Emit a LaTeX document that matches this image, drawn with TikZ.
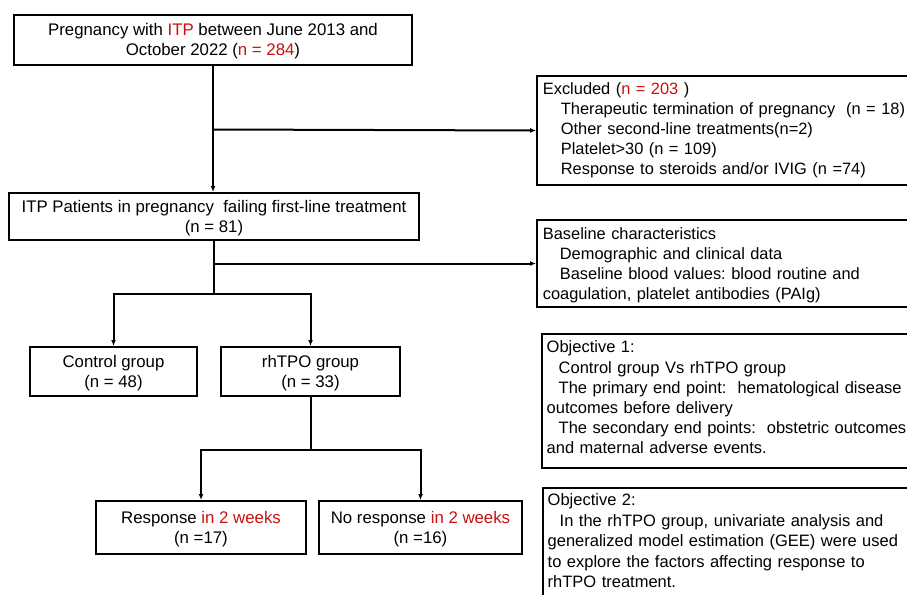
\documentclass[tikz,border=0pt]{standalone}
\usepackage{fontspec}
\setmainfont{Liberation Sans}
\usetikzlibrary{arrows.meta}
\definecolor{redtxt}{RGB}{200,16,16}
\begin{document}
\frenchspacing
\begin{tikzpicture}[x=1pt,y=-1pt,
  box/.style={draw, line width=2pt, align=center, inner sep=0pt, text depth=1pt, font=\fontsize{16.8}{20}\selectfont},
  rbox/.style={draw, line width=2pt, inner sep=0pt, anchor=north west},
  rtext/.style={align=left, inner sep=0pt, anchor=north west, text width=380pt, font=\fontsize{16.4}{20}\selectfont},
  otext/.style={rtext, font=\fontsize{16.5}{20.2}\selectfont},
  conn/.style={line width=2pt},
  arr/.style={conn, -{Latex[length=6pt,width=5pt]}}]
\clip (0,0) rectangle (907,594);
% left column
\node[box, minimum width=398pt, minimum height=50pt] (b1) at (213,40)
  {Pregnancy with \textcolor{redtxt}{ITP} between June 2013 and\\October 2022 (\textcolor{redtxt}{n = 284})};
\node[box, minimum width=410pt, minimum height=47pt] (b2) at (214,216.5)
  {ITP Patients in pregnancy\ \ failing first-line treatment\\(n = 81)};
\node[box, minimum width=167pt, minimum height=49pt] (ctrl) at (113.5,371.5)
  {Control group\\(n = 48)};
\node[box, minimum width=179pt, minimum height=49pt] (rh) at (310.5,371.5)
  {rhTPO group\\(n = 33)};
\node[box, minimum width=210pt, minimum height=53pt] (resp) at (201,527.5)
  {Response \textcolor{redtxt}{in 2 weeks}\\(n =17)};
\node[box, minimum width=203pt, minimum height=53pt] (noresp) at (420.5,527.5)
  {No response \textcolor{redtxt}{in 2 weeks}\\(n =16)};
% right column boxes
\node[rbox, minimum width=420pt, minimum height=109pt] (excl) at (536,75) {};
\node[rtext] (exclt) at (542.7,82.8)
  {Excluded (\textcolor{redtxt}{n = 203} )\\
   \hspace*{18pt}Therapeutic termination of pregnancy\ \ (n = 18)\\
   \hspace*{18pt}Other second-line treatments(n=2)\\
   \hspace*{18pt}Platelet>30 (n = 109)\\
   \hspace*{18pt}Response to steroids and/or IVIG (n =74)};
\node[rbox, minimum width=420pt, minimum height=87pt] (base) at (536,219) {};
\node[rtext] (baset) at (542.7,227.5)
  {Baseline characteristics\\
   \hspace*{17pt}Demographic and clinical data\\
   \hspace*{17pt}Baseline blood values: blood routine and\\
   coagulation, platelet antibodies (PAIg)};
\node[rbox, minimum width=420pt, minimum height=134pt] (obj1) at (541,333) {};
\node[otext] (obj1t) at (546.5,340.7)
  {Objective 1:\\
   \hspace*{12pt}Control group Vs rhTPO group\\
   \hspace*{12pt}The primary end point:\ \ hematological disease\\
   outcomes before delivery\\
   \hspace*{12pt}The secondary end points:\ \ obstetric outcomes\\
   and maternal adverse events.};
\node[rbox, minimum width=420pt, minimum height=140pt] (obj2) at (542,487) {};
\node[otext, font=\fontsize{16.5}{20.5}\selectfont] (obj2t) at (547.5,493.5)
  {Objective 2:\\
   \hspace*{12pt}In the rhTPO group, univariate analysis and\\
   generalized model estimation (GEE) were used\\
   to explore the factors affecting response to\\
   rhTPO treatment.};
% connectors
\coordinate (j1) at (213,129.5);
\draw[arr] (b1.south) -- (b1.south |- b2.north);
\draw[arr] (j1) -- (excl.west);
\coordinate (split1) at (214,293.5);
\draw[conn] (b2.south) -- (split1);
\draw[arr] (b2.south |- base.west) -- (base.west);
\draw[arr] (split1) -| (ctrl.north);
\draw[arr] (split1) -| (rh.north);
\coordinate (split2) at (310.5,450);
\draw[conn] (rh.south) -- (split2);
\draw[arr] (split2) -| (resp.north);
\draw[arr] (split2) -| (noresp.north);
\end{tikzpicture}
\end{document}
